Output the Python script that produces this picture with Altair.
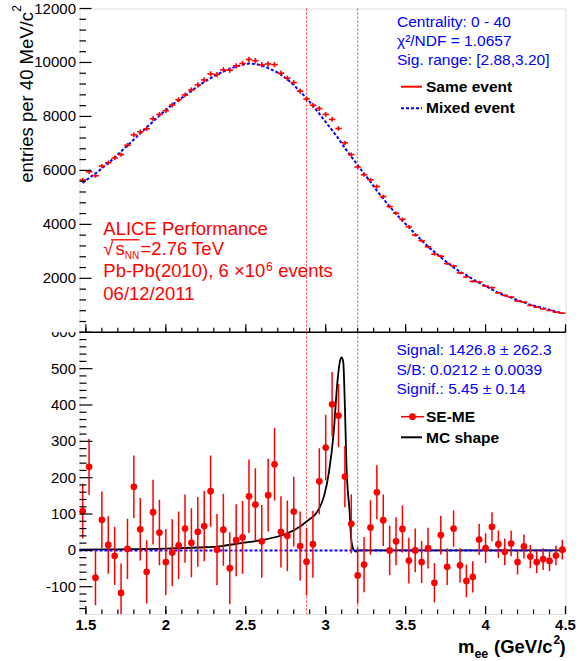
import altair as alt
import pandas as pd

FONT = "Liberation Sans, Arial, Helvetica, sans-serif"

# ---------------- data ----------------
BIN_FIRST = 1.48
BIN_WIDTH = 0.04

se_counts = [5640, 5951, 5802, 6162, 6286, 6460, 6585, 6932, 7317, 7429,
             7541, 7914, 8075, 8212, 8423, 8621, 8795, 8981, 9168, 9354,
             9578, 9553, 9727, 9714, 9876, 9963, 10112, 10062, 9915, 9945,
             9920, 9603, 9416, 9255, 8938, 8645, 8416, 8292, 8075, 7889,
             7553, 7019, 6585, 6125, 5839, 5653, 5405, 5032, 4659, 4411,
             4188, 3914, 3604, 3393, 3169, 2896, 2821, 2548, 2461, 2200,
             2051, 1890, 1865, 1716, 1654, 1467, 1368, 1306, 1157, 1120,
             996, 933, 871, 809, 747, 710]

me_counts = [5530, 5720, 5890, 6075, 6275, 6480, 6700, 6925, 7145, 7370,
             7595, 7810, 8025, 8240, 8430, 8605, 8770, 8950, 9115, 9280,
             9420, 9550, 9665, 9765, 9850, 9920, 9960, 9945, 9890, 9790,
             9685, 9550, 9375, 9160, 8930, 8675, 8400, 8100, 7795, 7490,
             7180, 6830, 6510, 6195, 5880, 5580, 5250, 4950, 4660, 4390,
             4130, 3900, 3640, 3410, 3170, 2980, 2780, 2590, 2405, 2245,
             2120, 1965, 1835, 1710, 1590, 1455, 1370, 1285, 1190, 1110,
             1020, 960, 895, 835, 765, 710]

diff_vals = [108, 230, -75, 84, 15, -15, -117, 4, 175, 58,
             -59, 105, 49, -32, -6, 14, 60, 21, 51, 67,
             163, 2, 57, -49, 28, 36, 149, 126, 25, 152,
             237, 51, 40, 107, 12, -31, 17, 190, 283, 402,
             371, 203, 73, -69, -39, 63, 160, 83, 0, 25,
             59, -28, 0, -32, 6, -89, 42, -45, 60, -41,
             -84, -73, 30, 6, 65, 17, -4, 19, -32, 11,
             -17, -32, -24, -29, -14, 2]

diff_errs = [75, 77, 76, 78, 79, 80, 81, 83, 86, 86,
             87, 89, 90, 91, 92, 93, 94, 95, 96, 97,
             98, 98, 99, 99, 99, 100, 101, 100, 100, 100,
             100, 98, 97, 96, 95, 93, 92, 91, 90, 89,
             87, 84, 81, 78, 76, 75, 74, 71, 68, 66,
             65, 63, 60, 58, 56, 54, 53, 50, 50, 47,
             45, 43, 43, 41, 40, 38, 37, 35, 34, 33,
             32, 31, 30, 28, 27, 27]

mc_mass = [1.46, 1.7, 2.0, 2.2, 2.35, 2.47, 2.6, 2.72, 2.8, 2.885, 2.95, 2.99,
           3.02, 3.05, 3.073, 3.09, 3.10, 3.11, 3.12, 3.13, 3.15, 3.16, 3.175,
           3.19, 3.21, 4.5]
mc_vals = [2, 3, 5, 8, 12, 20, 28, 41, 55, 81, 108, 150,
           214, 324, 462, 522, 531, 517, 398, 232, 104, 30, 2,
           -3, 0, 0]

sig_range = [2.88, 3.20]

x_labels = [1.5, 2, 2.5, 3, 3.5, 4, 4.5]
x_label_text = ["1.5", "2", "2.5", "3", "3.5", "4", "4.5"]
top_y_labels = [2000, 4000, 6000, 8000, 10000, 12000]
bot_y_labels = [-100, 0, 100, 200, 300, 400, 500]

# ---------------- layout ----------------
W = 486
H = 605.5
H_TOP = 323.8

XS = alt.Scale(domain=[1.46, 4.5], nice=False, zero=False)
YT = alt.Scale(domain=[0, 12000], range=[H_TOP, 0], nice=False, zero=False)
YB = alt.Scale(domain=[-175, 600], range=[H, H_TOP], nice=False, zero=False)

RED = "#ff0000"
BLUE = "#0000ff"

mass = [round(BIN_FIRST + BIN_WIDTH * i, 2) for i in range(len(diff_vals))]
df = pd.DataFrame({
    "m": mass,
    "lo": [m - BIN_WIDTH / 2 for m in mass],
    "hi": [m + BIN_WIDTH / 2 for m in mass],
    "se": se_counts,
    "me": me_counts,
    "d": diff_vals,
    "e": diff_errs,
})
df["se_lo"] = df["se"] - df["e"]
df["se_hi"] = df["se"] + df["e"]
df["d_lo"] = df["d"] - df["e"]
df["d_hi"] = df["d"] + df["e"]

mc_df = pd.DataFrame({"m": mc_mass, "v": mc_vals})

X = alt.X("m:Q", scale=XS, axis=None)
one = pd.DataFrame({"a": [0]})


def txt(s, x, y, size=15.5, color="black", bold=False, align="left", angle=0,
        baseline="alphabetic"):
    kw = dict(font=FONT, fontSize=size, color=color, align=align,
              baseline=baseline, angle=angle)
    if bold:
        kw["fontWeight"] = "bold"
    return alt.Chart(one).mark_text(**kw).encode(
        x=alt.value(x), y=alt.value(y), text=alt.value(s))


def hline(x1, x2, y, color, width=2, dash=None):
    kw = dict(color=color, strokeWidth=width)
    if dash:
        kw["strokeDash"] = dash
    return alt.Chart(one).mark_rule(**kw).encode(
        x=alt.value(x1), x2=alt.value(x2), y=alt.value(y))


layers = []

# signal range lines
layers.append(
    alt.Chart(pd.DataFrame({"m": sig_range})).mark_rule(
        color=RED, strokeDash=[2, 2], strokeWidth=1, opacity=0.8
    ).encode(x=X, y=alt.value(0), y2=alt.value(H))
)

# ---- top panel ----
layers.append(
    alt.Chart(df).mark_line(color=BLUE, strokeDash=[3, 2], strokeWidth=2).encode(
        x=X, y=alt.Y("me:Q", scale=YT, axis=None))
)
layers.append(
    alt.Chart(df).mark_rule(color=RED, strokeWidth=1.6).encode(
        x=alt.X("lo:Q", scale=XS, axis=None), x2="hi:Q",
        y=alt.Y("se:Q", scale=YT, axis=None))
)
layers.append(
    alt.Chart(df).mark_rule(color=RED, strokeWidth=1.6).encode(
        x=X, y=alt.Y("se_lo:Q", scale=YT, axis=None), y2="se_hi:Q")
)

# ---- bottom panel ----
layers.append(
    alt.Chart(mc_df).mark_line(color="black", strokeWidth=1.8, interpolate="monotone").encode(
        x=X, y=alt.Y("v:Q", scale=YB, axis=None))
)
layers.append(
    alt.Chart(pd.DataFrame({"z": [0]})).mark_rule(color=BLUE, strokeDash=[3, 2], strokeWidth=2).encode(
        y=alt.Y("z:Q", scale=YB, axis=None), x=alt.value(0), x2=alt.value(W))
)
layers.append(
    alt.Chart(df).mark_rule(color=RED, strokeWidth=1.5, clip=True).encode(
        x=X, y=alt.Y("d_lo:Q", scale=YB, axis=None), y2="d_hi:Q")
)
layers.append(
    alt.Chart(df).mark_circle(size=45, color=RED, opacity=1).encode(
        x=X, y=alt.Y("d:Q", scale=YB, axis=None))
)

# ---- frame separator ----
layers.append(hline(0, W, H_TOP, "black", 1.6))

# ---- ticks ----
top_major = top_y_labels
top_minor = [v for v in range(400, 12000, 400) if v % 2000]
bot_major = [-100, 0, 100, 200, 300, 400, 500, 600]
bot_minor = [v for v in range(-160, 600, 20) if v % 100]
x_minor = [round(1.5 + 0.1 * i, 1) for i in range(31)]

def yticks(vals, scale, length):
    return alt.Chart(pd.DataFrame({"v": vals})).mark_rule(color="black", strokeWidth=1.2).encode(
        y=alt.Y("v:Q", scale=scale, axis=None), x=alt.value(0), x2=alt.value(length))

def xticks(vals, y0, length):
    return alt.Chart(pd.DataFrame({"m": vals})).mark_rule(color="black", strokeWidth=1.2).encode(
        x=X, y=alt.value(y0), y2=alt.value(y0 - length))

layers += [
    yticks(top_major, YT, 12), yticks(top_minor, YT, 6.5),
    yticks(bot_major, YB, 13), yticks(bot_minor, YB, 7),
    xticks(x_labels, H_TOP, 8), xticks(x_minor, H_TOP, 4.5),
    xticks(x_labels, H, 8), xticks(x_minor, H, 4.5),
]

# ---- axis labels ----
layers.append(
    alt.Chart(pd.DataFrame({"v": [600], "t": ["600"]})).mark_text(
        font=FONT, fontSize=15, align="right", baseline="middle", color="black"
    ).encode(y=alt.Y("v:Q", scale=YB, axis=None), x=alt.value(-3.5), text="t:N")
)
layers.append(
    alt.Chart(one).mark_rect(color="white").encode(
        x=alt.value(-45), x2=alt.value(-1.5), y=alt.value(300), y2=alt.value(H_TOP))
)
layers.append(
    alt.Chart(pd.DataFrame({"v": top_y_labels, "t": [str(v) for v in top_y_labels]})).mark_text(
        font=FONT, fontSize=15, align="right", baseline="middle", color="black"
    ).encode(y=alt.Y("v:Q", scale=YT, axis=None), x=alt.value(-3.5), text="t:N")
)
layers.append(
    alt.Chart(pd.DataFrame({"v": bot_y_labels, "t": [str(v) for v in bot_y_labels]})).mark_text(
        font=FONT, fontSize=15, align="right", baseline="middle", color="black"
    ).encode(y=alt.Y("v:Q", scale=YB, axis=None), x=alt.value(-3.5), text="t:N")
)
layers.append(
    alt.Chart(pd.DataFrame({"m": x_labels, "t": x_label_text})).mark_text(
        font=FONT, fontSize=15, fontWeight="bold", align="center", baseline="alphabetic", color="black"
    ).encode(x=X, y=alt.value(621), text="t:N")
)

# axis titles
layers += [
    txt("entries per 40 MeV/c", -46.5, 3.5, size=18.5, align="right", angle=270),
    txt("2", -58.5, -3.5, size=12, align="right", angle=270),
    txt("m", 378.5, 644.5, size=18.5, bold=True),
    txt("ee", 394.9, 649.5, size=12.5, bold=True),
    txt("(GeV/c", 414.5, 644.5, size=18.5, bold=True),
    txt("2", 474, 635, size=12, bold=True),
    txt(")", 480, 644.5, size=18.5, bold=True),
]

# ---- top panel annotations ----
layers += [
    txt("Centrality: 0 - 40", 317.5, 18.2, color=BLUE),
    txt("χ²/NDF = 1.0657", 317.5, 37.5, color=BLUE),
    txt("Sig. range: [2.88,3.20]", 317.5, 56.8, color=BLUE),
    hline(321.5, 342.5, 78.2, RED, 2),
    txt("Same event", 346.5, 83.2, bold=True),
    hline(321.5, 342.5, 99.8, BLUE, 2, [3, 2]),
    txt("Mixed event", 346.5, 104.8, bold=True),
    txt("ALICE Performance", 23.8, 226.5, size=18.5, color=RED),
    txt("√", 23.8, 246.5, size=18.5, color=RED),
    hline(31.5, 60.0, 231.3, RED, 1.3),
    txt("s", 36.0, 246.5, size=18.5, color=RED),
    txt("NN", 45.3, 250.5, size=10, color=RED),
    txt("=2.76 TeV", 61.0, 246.5, size=18.5, color=RED),
    txt("Pb-Pb(2010), 6 ×10", 23.8, 268.8, size=18.5, color=RED),
    txt("6", 186.5, 262, size=12, color=RED),
    txt("events", 198.8, 268.8, size=18.5, color=RED),
    txt("06/12/2011", 23.8, 291.5, size=18.5, color=RED),
]

# ---- bottom panel annotations ----
layers += [
    txt("Signal: 1426.8 ± 262.3", 317, 346.5, color=BLUE),
    txt("S/B: 0.0212 ± 0.0039", 317, 366.5, color=BLUE),
    txt("Signif.: 5.45 ± 0.14", 317, 385.5, color=BLUE),
    hline(321.5, 344.5, 408.2, RED, 1.5),
    alt.Chart(one).mark_circle(size=45, color=RED, opacity=1).encode(
        x=alt.value(333), y=alt.value(408.2)),
    txt("SE-ME", 346.5, 413.2, bold=True),
    hline(321.5, 342.5, 428.8, "black", 2),
    txt("MC shape", 346.5, 434.2, bold=True),
]

chart = alt.layer(*layers).resolve_scale(y="independent").properties(
    width=W,
    height=H,
    autosize=alt.AutoSizeParams(type="none"),
    padding={"left": 79.5, "top": 8.5, "right": 19.5, "bottom": 47},
).configure_view(stroke="black", strokeWidth=1.6).configure(background="white")

chart.save("out.html", embed_options={"renderer": "svg", "actions": False})
